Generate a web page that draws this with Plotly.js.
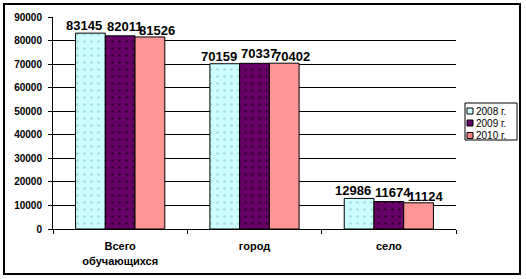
<!DOCTYPE html>
<html>
<head>
<meta charset="utf-8">
<script src="https://cdn.plot.ly/plotly-3.0.1.min.js"></script>
<style>
  html, body { margin: 0; padding: 0; background: #fff; }
  #chart { position: absolute; left: 3px; top: 3px; width: 514px; height: 268px; border: 2px solid #000; }
</style>
</head>
<body>
<div id="chart"></div>
<script>
const categories = ["Всего<br>обучающихся", "город", "село"];
const seriesNames = ["2008 г.", "2009 г.", "2010 г."];
const values2008 = [83145, 70159, 12986];
const values2009 = [82011, 70337, 11674];
const values2010 = [81526, 70402, 11124];
const yTicks = [0, 10000, 20000, 30000, 40000, 50000, 60000, 70000, 80000, 90000];

const allValues = [values2008, values2009, values2010];
const colors = ["#CCFFFF", "#660066", "#FF8080"];
const patterns = [
  {shape: ".", fgcolor: "#A8DCDC", bgcolor: "#CCFFFF", size: 7, solidity: 0.12},
  {shape: ".", fgcolor: "#330033", bgcolor: "#660066", size: 7, solidity: 0.12},
  {shape: ".", fgcolor: "#FFB3B3", bgcolor: "#FF8080", size: 2, solidity: 0.5}
];
const labelShift = [-36, 4, 37];
const labelRaise = [-2, 0, -3];

const W = 514, H = 268;
const M = {l: 48, r: 63, t: 12, b: 44};
const PW = W - M.l - M.r, PH = H - M.t - M.b;
const px = v => (v - M.l) / PW;
const py = v => (H - M.b - v) / PH;
const font = "Liberation Sans, Arial, sans-serif";

const traces = allValues.map((vals, i) => ({
  type: "bar",
  name: seriesNames[i],
  x: categories,
  y: vals,
  marker: {color: colors[i], pattern: patterns[i], line: {color: "#000", width: 1}},
  hoverinfo: "none",
  showlegend: false
}));

const annotations = [];
allValues.forEach((vals, i) => {
  vals.forEach((v, j) => {
    annotations.push({
      x: categories[j], y: v, xref: "x", yref: "y",
      text: String(v), showarrow: false,
      xanchor: "center", yanchor: "bottom",
      xshift: labelShift[i], yshift: labelRaise[i],
      font: {family: font, size: 13, color: "#000", weight: "bold"}
    });
  });
});

// legend (box, swatches, labels) drawn in paper coordinates
const shapes = [{
  type: "rect", xref: "paper", yref: "paper",
  x0: px(460), x1: px(512), y0: py(98), y1: py(135),
  line: {color: "#000", width: 1}, fillcolor: "#fff", layer: "above"
}];
const legendY = [106, 118, 130.5];
seriesNames.forEach((name, i) => {
  shapes.push({
    type: "rect", xref: "paper", yref: "paper",
    x0: px(462), x1: px(468), y0: py(legendY[i] + 3), y1: py(legendY[i] - 3),
    line: {color: "#000", width: 1}, fillcolor: colors[i], layer: "above"
  });
  annotations.push({
    x: px(469), y: py(legendY[i]), xref: "paper", yref: "paper",
    text: name, showarrow: false, xanchor: "left", yanchor: "middle",
    font: {family: font, size: 10, color: "#000"}
  });
});

const layout = {
  width: W, height: H,
  margin: M,
  paper_bgcolor: "#fff", plot_bgcolor: "#fff",
  barmode: "group", bargap: 0.336, bargroupgap: 0,
  showlegend: false,
  xaxis: {
    type: "category",
    showline: true, linecolor: "#000", linewidth: 1,
    ticks: "outside", ticklen: 4, tickcolor: "#000", tickson: "boundaries",
    showgrid: false, zeroline: false,
    tickfont: {family: font, size: 11, color: "#000", weight: "bold"},
    ticklabelstandoff: 7
  },
  yaxis: {
    range: [0, 90000], tickvals: yTicks, ticktext: yTicks.map(String),
    showline: true, linecolor: "#000", linewidth: 1,
    ticks: "outside", ticklen: 4, tickcolor: "#000",
    showgrid: true, gridcolor: "#000", gridwidth: 1,
    zeroline: false,
    tickfont: {family: font, size: 10, color: "#000", weight: "bold"},
    ticklabelstandoff: 4
  },
  shapes: shapes,
  annotations: annotations
};

Plotly.newPlot("chart", traces, layout, {displayModeBar: false, staticPlot: true});
</script>
</body>
</html>
